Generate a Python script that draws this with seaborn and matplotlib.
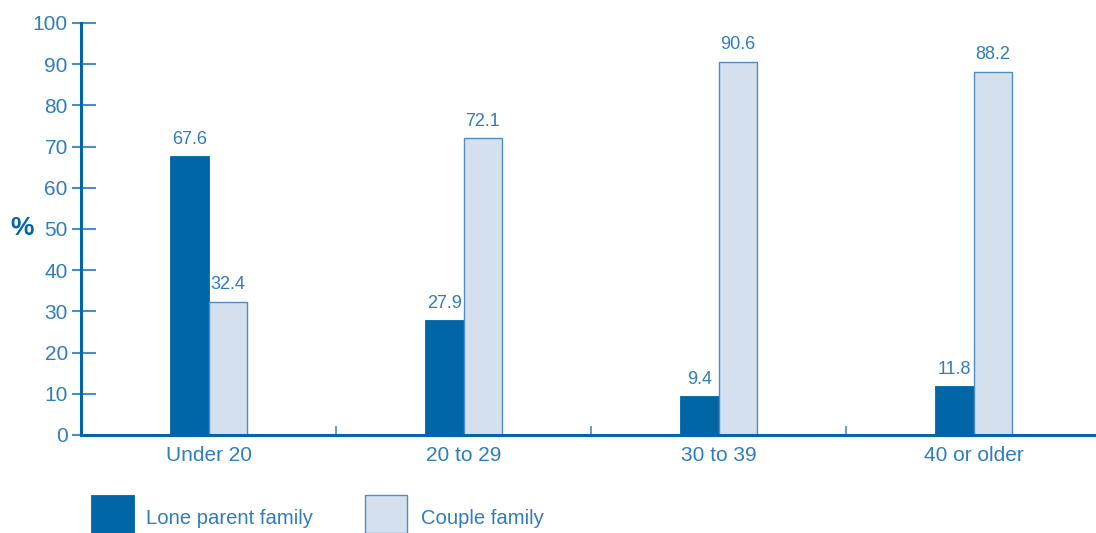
import matplotlib
matplotlib.use("Agg")
import matplotlib.pyplot as plt
from matplotlib.patches import Rectangle
import seaborn as sns
import pandas as pd

categories = ["Under 20", "20 to 29", "30 to 39", "40 or older"]
lone_parent = [67.6, 27.9, 9.4, 11.8]
couple = [32.4, 72.1, 90.6, 88.2]
series_names = ["Lone parent family", "Couple family"]
y_ticks = [0, 10, 20, 30, 40, 50, 60, 70, 80, 90, 100]

DARK = "#0066A6"
LIGHT = "#D5E0EE"
EDGE = "#4F8CC2"
TEXT = "#2F7DBF"
TICK = "#4A8CC4"

df = pd.DataFrame({
    "cat": categories * 2,
    "val": lone_parent + couple,
    "series": [series_names[0]] * 4 + [series_names[1]] * 4,
})

sns.set_theme(style="white")
plt.rcParams["font.family"] = ["Liberation Sans", "DejaVu Sans"]

W, H = 1096, 533
fig = plt.figure(figsize=(W / 100, H / 100), dpi=100)
ax = fig.add_axes([81 / W, (H - 435) / H, 1020 / W, (435 - 23) / H])

sns.barplot(data=df, x="cat", y="val", hue="series", order=categories,
            hue_order=series_names, palette=[DARK, LIGHT], width=0.3,
            gap=0, dodge=True, legend=False, ax=ax, saturation=1)

for p in ax.containers[0]:
    p.set_edgecolor(DARK)
    p.set_linewidth(0.6)
for p in ax.containers[1]:
    p.set_edgecolor(EDGE)
    p.set_linewidth(1.0)

for c in ax.containers:
    ax.bar_label(c, fmt="%.1f", padding=6, color=TEXT, fontsize=13)

ax.set_xlim(-0.5, 3.5)
ax.set_ylim(0, 100)
ax.set_xlabel("")
ax.set_ylabel("")

for s in ["top", "right"]:
    ax.spines[s].set_visible(False)
for s in ["left", "bottom"]:
    ax.spines[s].set_color(DARK)
    ax.spines[s].set_linewidth(2.2)
ax.spines["bottom"].set_clip_on(False)

# y ticks: crossing the axis (outer short, inner longer)
ax.set_yticks(y_ticks)
ax.set_yticklabels([str(v) for v in y_ticks])
ax.set_yticks(y_ticks, minor=True)
ax.yaxis.remove_overlapping_locs = False
ax.tick_params(axis="y", which="major", direction="out", length=6.5, width=1.5,
               color=TICK, labelcolor=TEXT, labelsize=15, pad=3, left=True)
ax.tick_params(axis="y", which="minor", direction="in", length=11, width=1.5,
               color=TICK, left=True)

# x ticks: category labels, separators between groups
ax.set_xticks(range(len(categories)))
ax.set_xticklabels(categories)
ax.set_xticks([0.5, 1.5, 2.5], minor=True)
ax.tick_params(axis="x", which="major", length=0, labelcolor=TEXT,
               labelsize=15, pad=8, bottom=True)
ax.tick_params(axis="x", which="minor", direction="in", length=6.5, width=1.2,
               color=TICK, bottom=True)

fig.text(22 / W, (H - 228) / H, "%", color=DARK, fontsize=19,
         fontweight="bold", ha="center", va="center")

# legend
fig.add_artist(Rectangle((91 / W, 0), 43 / W, 38 / H, transform=fig.transFigure,
                         facecolor=DARK, edgecolor=DARK, lw=0.6))
fig.text(146 / W, (H - 519) / H, series_names[0], color=TEXT, fontsize=14.6,
         ha="left", va="center")
fig.add_artist(Rectangle((365 / W, 0), 42 / W, 38 / H, transform=fig.transFigure,
                         facecolor=LIGHT, edgecolor=EDGE, lw=1.0))
fig.text(421 / W, (H - 519) / H, series_names[1], color=TEXT, fontsize=14.6,
         ha="left", va="center")

fig.savefig("out.png", dpi=100)
